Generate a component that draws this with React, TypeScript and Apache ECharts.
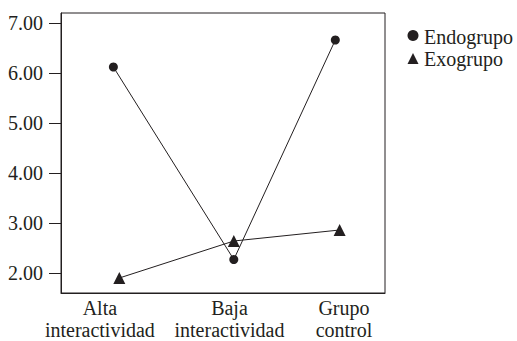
import React, { useEffect, useRef } from "react";
import * as echarts from "echarts";

const categories = ["Alta\ninteractividad", "Baja\ninteractividad", "Grupo\ncontrol"];
const categoryPositions = [0.36, 1.56, 2.62];
const yTicks = [2, 3, 4, 5, 6, 7];

const endoX = [0.485, 1.6, 2.54];
const endoValues = [6.12, 2.27, 6.66];
const exoX = [0.54, 1.6, 2.58];
const exoValues = [1.9, 2.64, 2.86];
const seriesNames = ["Endogrupo", "Exogrupo"];

const INK = "#231f20";
const FONT = "Liberation Serif";
const FS = 20;
const FONT_CSS = `${FS}px "Liberation Serif", "Times New Roman", Tinos, serif`;

export default function App() {
  const ref = useRef<HTMLDivElement>(null);
  useEffect(() => {
    if (!ref.current) return;
    const chart = echarts.init(ref.current, undefined, { renderer: "svg" });
    const pair = (xs: number[], ys: number[]) => xs.map((x, i) => [x, ys[i]]);
    chart.setOption({
      animation: false,
      backgroundColor: "#ffffff",
      textStyle: { fontFamily: FONT },
      grid: {
        left: 61,
        right: 132,
        top: 13,
        bottom: 48,
        show: true,
        borderColor: INK,
        borderWidth: 1,
        backgroundColor: "transparent",
      },
      legend: {
        orient: "vertical",
        left: 407.5,
        top: 30,
        padding: 0,
        itemGap: 12,
        itemWidth: 11,
        itemHeight: 11,
        formatter: () => "",
        data: [
          { name: seriesNames[0], icon: "circle" },
          { name: seriesNames[1], icon: "triangle" },
        ],
      },
      xAxis: {
        type: "value",
        min: 0,
        max: 3,
        splitLine: { show: false },
        axisLine: { show: true, lineStyle: { color: INK, width: 1 } },
        axisTick: { show: false },
        axisLabel: { show: false },
      },
      yAxis: {
        type: "value",
        min: 1.6,
        max: 7.2,
        splitLine: { show: false },
        axisLine: { show: true, lineStyle: { color: INK, width: 1 } },
        axisTick: {
          show: true,
          customValues: yTicks,
          length: 12,
          lineStyle: { color: INK, width: 1 },
        },
        axisLabel: { show: false },
      },
      series: [
        {
          name: seriesNames[0],
          type: "line",
          data: pair(endoX, endoValues),
          symbol: "circle",
          symbolSize: 9,
          itemStyle: { color: INK },
          lineStyle: { color: INK, width: 1 },
        },
        {
          name: seriesNames[1],
          type: "line",
          data: pair(exoX, exoValues),
          symbol: "triangle",
          symbolSize: 12,
          itemStyle: { color: INK },
          lineStyle: { color: INK, width: 1 },
        },
      ],
    });

    const finder = { xAxisIndex: 0, yAxisIndex: 0 };
    const origin = chart.convertToPixel(finder, [0, 1.6]) as number[];
    const leftPx = origin[0];
    const bottomPx = origin[1];
    const textStyle = (text: string, align: string, verticalAlign: string, extra: any = {}) => ({
      text,
      font: FONT_CSS,
      fontFamily: FONT,
      fontSize: FS,
      fill: INK,
      align,
      verticalAlign,
      ...extra,
    });
    const yLabels = yTicks.map((v) => {
      const p = chart.convertToPixel(finder, [0, v]) as number[];
      return {
        type: "text",
        x: leftPx - 18,
        y: p[1],
        style: textStyle(v.toFixed(2), "right", "middle"),
      };
    });
    const xLabels = categories.map((c, i) => {
      const p = chart.convertToPixel(finder, [categoryPositions[i], 1.6]) as number[];
      return {
        type: "text",
        x: p[0],
        y: bottomPx + 4,
        style: textStyle(c, "center", "top", { lineHeight: 22 }),
      };
    });
    const legendLabels = seriesNames.map((n, i) => ({
      type: "text",
      x: 424,
      y: 37 + i * 22,
      style: textStyle(n, "left", "middle"),
    }));
    chart.setOption({ graphic: [...yLabels, ...xLabels, ...legendLabels] });
    return () => chart.dispose();
  }, []);
  return <div ref={ref} style={{ width: 517, height: 341, position: "absolute", left: 0, top: 0 }} />;
}
